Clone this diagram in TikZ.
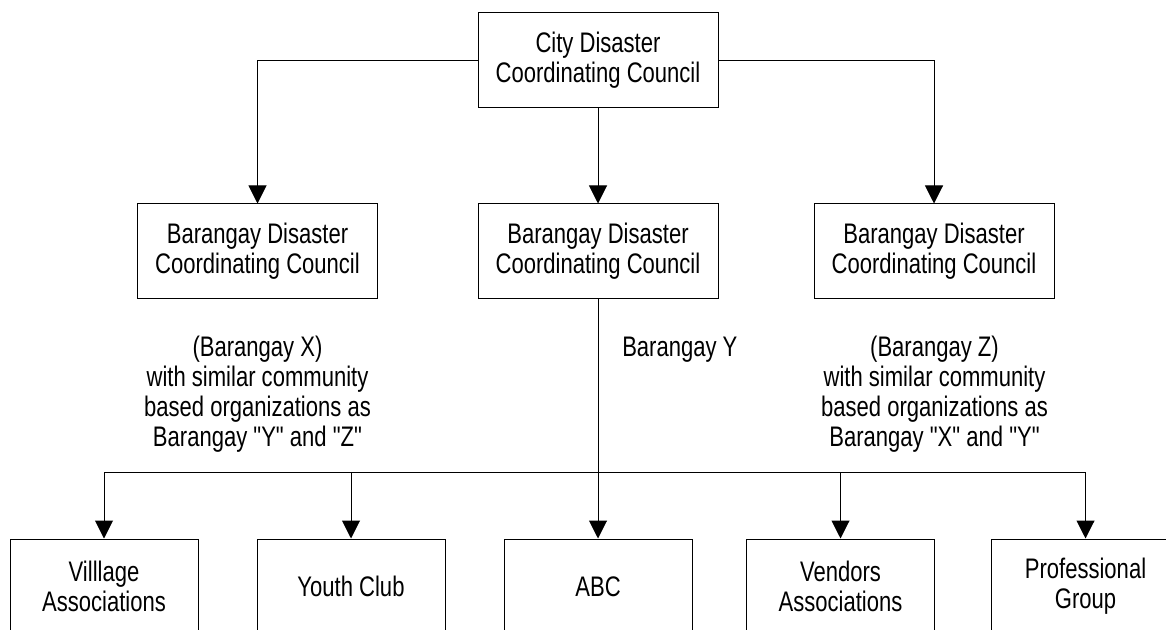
\documentclass[tikz,border=0pt]{standalone}
\usepackage{fontspec}
\setmainfont{Liberation Sans}[FakeStretch=0.78, Ligatures=TeXOff]
\usetikzlibrary{arrows.meta}
\begin{document}
\begin{tikzpicture}[x=0.75pt,y=-0.75pt,
  every node/.style={font=\fontsize{21.2pt}{22.5pt}\selectfont, align=center},
  unitbox/.style={draw, line width=0.75pt, inner sep=0pt,
    minimum width=180pt, minimum height=71.25pt},
  groupbox/.style={draw, line width=0.75pt, inner sep=0pt,
    minimum width=141pt, minimum height=71.25pt},
  note/.style={inner sep=0pt},
  link/.style={line width=0.75pt},
  arr/.style={line width=0.75pt, -{Triangle[width=13.5pt,length=13.5pt]}}]
\useasboundingbox (0,0) rectangle (1166,630);
\clip (0,0) rectangle (1166,630);

% city level
\node[unitbox] (city) at (598,60.5) {City Disaster\\Coordinating Council};

% barangay councils
\node[unitbox] (bx) at (257.5,251.5) {Barangay Disaster\\Coordinating Council};
\node[unitbox] (by) at (598,251.5) {Barangay Disaster\\Coordinating Council};
\node[unitbox] (bz) at (934,251.5) {Barangay Disaster\\Coordinating Council};

\draw[arr] (city.west) -| (bx.north);
\draw[arr] (city.east) -| (bz.north);
\draw[arr] (city.south) -- (by.north);

% notes under the barangay councils
\node[note] (nx) at (257.5,394) {(Barangay X)\\with similar community\\based organizations as\\Barangay "Y" and "Z"};
\node[note] (nz) at (934.5,394) {(Barangay Z)\\with similar community\\based organizations as\\Barangay "X" and "Y"};
\node[note, anchor=base west] (ny) at (622,357) {Barangay Y};

% community based organizations of Barangay Y
\node[groupbox] (g1) at (104,586.5) {Villlage\\Associations};
\node[groupbox] (g2) at (351,586.5) {Youth Club};
\node[groupbox] (g3) at (598,586.5) {ABC};
\node[groupbox] (g4) at (840.5,586.5) {Vendors\\Associations};
\node[groupbox] (g5) at (1085.5,586.5) {Professional\\Group};

\coordinate (bus) at (598,472);
\draw[link] (by.south) -- (bus);
\draw[link] (g1.north |- bus) -- (g5.north |- bus);
\foreach \g in {g1,g2,g3,g4,g5}
  \draw[arr] (\g.north |- bus) -- (\g.north);
\end{tikzpicture}
\end{document}
